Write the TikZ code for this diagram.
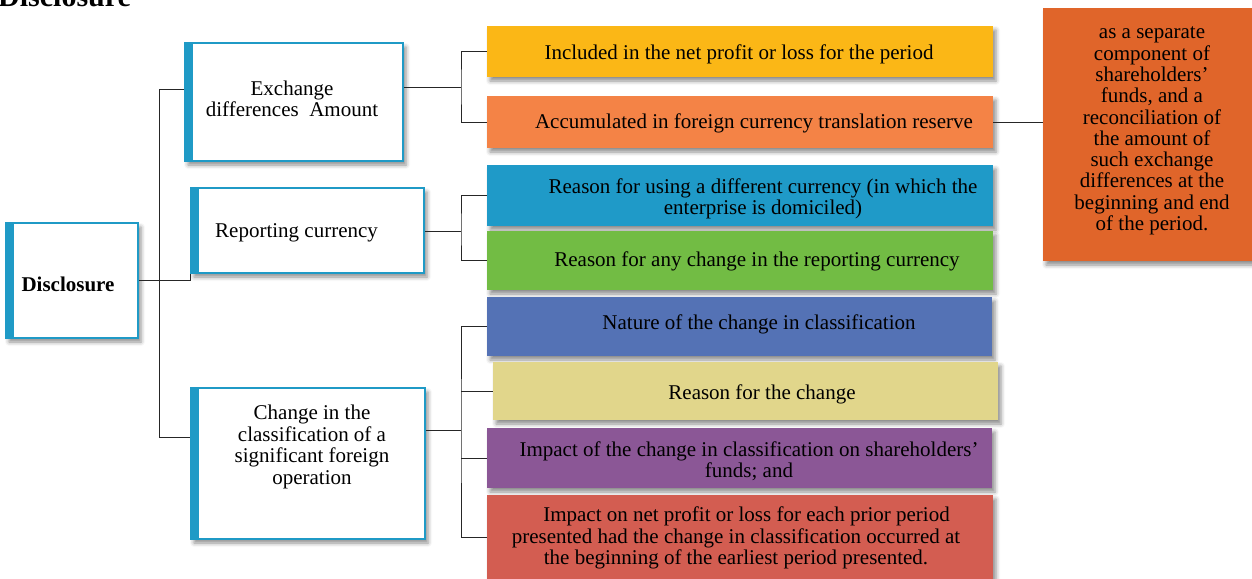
\documentclass[tikz,border=0pt]{standalone}
\usepackage{fontspec}
\setmainfont{Liberation Serif}
\usetikzlibrary{fit,shadows.blur}
\definecolor{boxblue}{HTML}{1F9AC6}
\definecolor{cyel}{HTML}{FBB716}
\definecolor{cora}{HTML}{F48346}
\definecolor{cblu}{HTML}{1F9AC8}
\definecolor{cgrn}{HTML}{72BC44}
\definecolor{cnav}{HTML}{5472B5}
\definecolor{ckha}{HTML}{E1D68B}
\definecolor{cpur}{HTML}{8B5796}
\definecolor{cred}{HTML}{D35D51}
\definecolor{crbx}{HTML}{E0652A}
\tikzset{
  fs/.style={font=\fontsize{21}{21.5}\selectfont, inner sep=0pt, yshift=-2pt},
  shad/.style={blur shadow={shadow xshift=3pt, shadow yshift=-4pt, shadow blur radius=4pt, shadow opacity=45}},
  lbox/.style={draw=boxblue, line width=2pt, fill=white, inner sep=0pt, shad,
    path picture={\fill[boxblue] (path picture bounding box.north west) rectangle ([xshift=8pt]path picture bounding box.south west);}},
  cbox/.style={fill=#1, inner sep=0pt, shad},
  conn/.style={draw=black!85, line width=1pt}
}
\begin{document}
\begin{tikzpicture}[x=1pt, y=-1pt]
\useasboundingbox (0,0) rectangle (1252,578);
% title
\node[anchor=base west, inner sep=0pt, font=\bfseries\fontsize{30}{30}\selectfont] (title) at (-2,7) {Disclosure};

% left boxes
\node[lbox, fit={(6,223) (138,338)}] (disc) {};
\node[lbox, fit={(185,43) (403,161)}] (exch) {};
\node[lbox, fit={(191,188) (424,273)}] (rep) {};
\node[lbox, fit={(191,388) (425,539)}] (chg) {};

\node[fs, font=\bfseries\fontsize{21}{21.5}\selectfont] (tdisc) at (68,282) {Disclosure};
\node[fs, align=center] (texch) at (292,97) {Exchange\\differences~~Amount};
\node[fs, anchor=west] (trep) at (215,231) {Reporting currency};
\node[fs, align=center] (tchg) at (312,445) {Change in the\\classification of a\\significant foreign\\operation};

% coloured boxes
\node[cbox=cyel, fit={(487,26) (993,77)}] (yel) {};
\node[cbox=cora, fit={(487,96) (993,148)}] (ora) {};
\node[cbox=cblu, fit={(487,165) (993,226)}] (blu) {};
\node[cbox=cgrn, fit={(487,231) (993,290)}] (grn) {};
\node[cbox=cnav, fit={(487,297) (992,356)}] (nav) {};
\node[cbox=ckha, fit={(493,362) (998,420)}] (kha) {};
\node[cbox=cpur, fit={(487,428) (992,488)}] (pur) {};
\node[cbox=cred, fit={(487,495) (993,580)}] (red) {};
\node[cbox=crbx, fit={(1043,8) (1254,261)}] (rbx) {};

\node[fs] (tyel) at (739,52) {Included in the net profit or loss for the period};
\node[fs] (tora) at (754,121) {Accumulated in foreign currency translation reserve};
\node[fs, align=center] (tblu) at (763,197) {Reason for using a different currency (in which the\\enterprise is domiciled)};
\node[fs] (tgrn) at (757,259) {Reason for any change in the reporting currency};
\node[fs] (tnav) at (759,322) {Nature of the change in classification};
\node[fs] (tkha) at (762,392) {Reason for the change};
\node[fs, align=center] (tpur) at (749,459) {Impact of the change in classification on shareholders'\\funds; and};
\node[fs, align=center] (tred) at (736,536) {~~~~Impact on net profit or loss for each prior period\\presented had the change in classification occurred at\\the beginning of the earliest period presented.};
\node[fs, align=center, font=\fontsize{21}{21.3}\selectfont] (trbx) at (1152,129) {as a separate\\component of\\shareholders’\\funds, and a\\reconciliation of\\the amount of\\such exchange\\differences at the\\beginning and end\\of the period.};

% connectors, left
\coordinate (t1) at (159,89);
\coordinate (t2) at (159,437);
\draw[conn] (t1) -- (t2);
\draw[conn] (t1) -- (t1 -| exch.west);
\draw[conn] (t2) -- (t2 -| chg.west);
\draw[conn] (disc.east) -| (rep.south west);

% connectors, right
\coordinate (b1) at (461,87);
\draw[conn] (exch.east |- b1) -- (b1);
\draw[conn] (yel.west) -| (b1) |- (ora.west);
\coordinate (b2) at (461,231);
\draw[conn] (rep.east |- b2) -- (b2);
\draw[conn] (blu.west) -| (b2) |- (grn.west);
\coordinate (b3) at (461,430);
\draw[conn] (chg.east |- b3) -- (b3);
\draw[conn] (nav.west) -| (b3) |- (red.west);
\draw[conn] (b3 |- kha.west) -- (kha.west);
\draw[conn] (b3 |- pur.west) -- (pur.west);
\draw[conn] (ora.east) -- (ora.east -| rbx.west);
\end{tikzpicture}
\end{document}
